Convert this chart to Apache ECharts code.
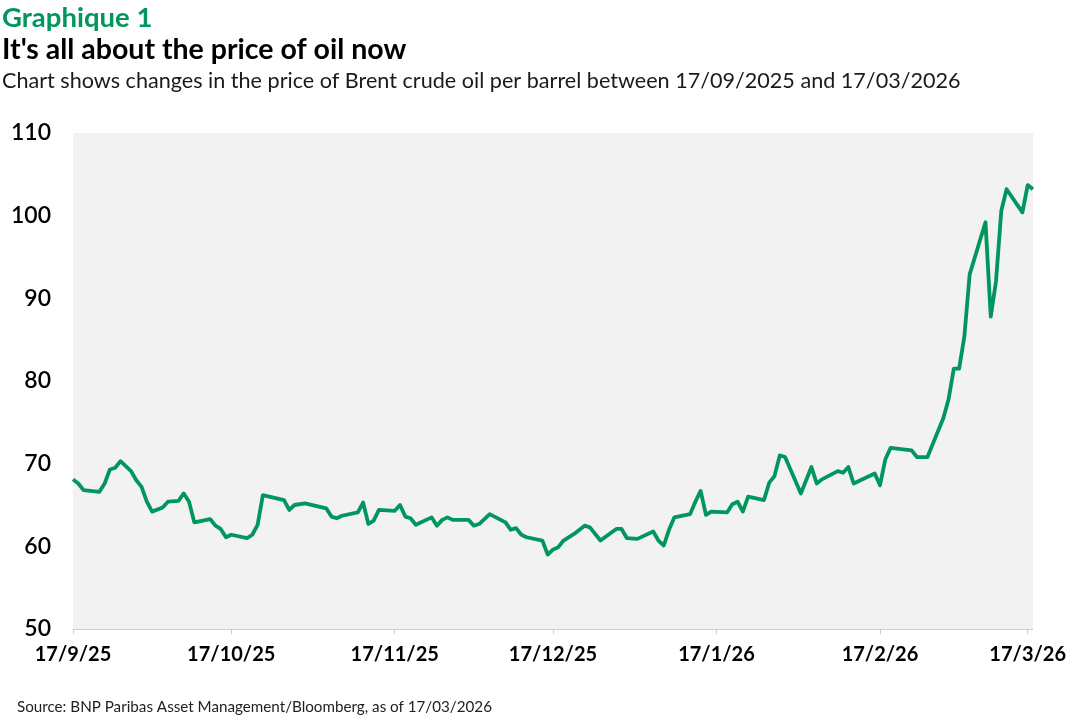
<!DOCTYPE html>
<html>
<head>
<meta charset="utf-8">
<title>Brent crude oil</title>
<script src="https://cdn.jsdelivr.net/npm/echarts@6/dist/echarts.min.js"></script>
<style>
  html, body { margin: 0; padding: 0; background: #fff; }
  #chart-container { width: 1069px; height: 718px; }
</style>
</head>
<body>
<div id="chart-container"></div>
<script>
// Brent price per barrel (USD)
const dates = [
  '2025-09-17', '2025-09-18', '2025-09-19', '2025-09-22', '2025-09-23', '2025-09-24', '2025-09-25', '2025-09-26',
  '2025-09-28', '2025-09-29', '2025-09-30', '2025-10-01', '2025-10-02', '2025-10-04', '2025-10-05', '2025-10-07',
  '2025-10-08', '2025-10-09', '2025-10-10', '2025-10-13', '2025-10-14', '2025-10-15', '2025-10-16', '2025-10-17',
  '2025-10-20', '2025-10-21', '2025-10-22', '2025-10-23', '2025-10-27', '2025-10-28', '2025-10-29', '2025-10-31',
  '2025-11-04', '2025-11-05', '2025-11-06', '2025-11-07', '2025-11-10', '2025-11-11', '2025-11-12', '2025-11-13',
  '2025-11-14', '2025-11-17', '2025-11-18', '2025-11-19', '2025-11-20', '2025-11-21', '2025-11-24', '2025-11-25',
  '2025-11-26', '2025-11-27', '2025-11-28', '2025-12-01', '2025-12-02', '2025-12-03', '2025-12-05', '2025-12-08',
  '2025-12-09', '2025-12-10', '2025-12-11', '2025-12-12', '2025-12-15', '2025-12-16', '2025-12-17', '2025-12-18',
  '2025-12-19', '2025-12-21', '2025-12-23', '2025-12-24', '2025-12-26', '2025-12-29', '2025-12-30', '2025-12-31',
  '2026-01-02', '2026-01-05', '2026-01-06', '2026-01-07', '2026-01-08', '2026-01-09', '2026-01-12', '2026-01-13',
  '2026-01-14', '2026-01-15', '2026-01-16', '2026-01-19', '2026-01-20', '2026-01-21', '2026-01-22', '2026-01-23',
  '2026-01-26', '2026-01-27', '2026-01-28', '2026-01-29', '2026-01-30', '2026-02-02', '2026-02-04', '2026-02-05',
  '2026-02-06', '2026-02-09', '2026-02-10', '2026-02-11', '2026-02-12', '2026-02-16', '2026-02-17', '2026-02-18',
  '2026-02-19', '2026-02-23', '2026-02-24', '2026-02-26', '2026-03-01', '2026-03-02', '2026-03-03', '2026-03-04',
  '2026-03-05', '2026-03-06', '2026-03-09', '2026-03-10', '2026-03-11', '2026-03-12', '2026-03-13', '2026-03-16',
  '2026-03-17', '2026-03-18'
];

const prices = [
  68.1, 67.6, 66.8, 66.6, 67.6, 69.3, 69.5, 70.3,
  69.1, 68.0, 67.2, 65.4, 64.2, 64.7, 65.4, 65.5,
  66.4, 65.4, 62.9, 63.3, 62.5, 62.1, 61.1, 61.4,
  61.0, 61.4, 62.6, 66.2, 65.6, 64.4, 65.0, 65.2,
  64.6, 63.6, 63.4, 63.7, 64.1, 65.3, 62.7, 63.1,
  64.4, 64.3, 65.0, 63.6, 63.4, 62.6, 63.5, 62.5,
  63.2, 63.5, 63.2, 63.2, 62.5, 62.7, 63.9, 62.9,
  62.0, 62.2, 61.4, 61.1, 60.7, 59.0, 59.6, 59.9,
  60.7, 61.5, 62.5, 62.3, 60.7, 62.1, 62.1, 61.0,
  60.9, 61.8, 60.7, 60.1, 62.0, 63.5, 63.9, 65.4,
  66.7, 63.8, 64.2, 64.1, 65.1, 65.4, 64.2, 66.0,
  65.6, 67.7, 68.5, 71.0, 70.8, 66.4, 69.6, 67.6,
  68.1, 69.1, 68.9, 69.6, 67.6, 68.8, 67.4, 70.5,
  71.9, 71.6, 70.8, 70.8, 75.5, 77.8, 81.5, 81.5,
  85.4, 92.9, 99.2, 87.8, 92.1, 100.6, 103.2, 100.4,
  103.7, 103.2
];

const tickDates = [
  '2025-09-17', '2025-10-17', '2025-11-17', '2025-12-17',
  '2026-01-17', '2026-02-17', '2026-03-17'
];

const yTicks = [50, 60, 70, 80, 90, 100, 110];

const green = '#00965E';

const toTs = (s) => {
  const p = s.split('-').map(Number);
  return new Date(p[0], p[1] - 1, p[2]).getTime();
};

const fmtDate = (v) => {
  const d = new Date(v);
  return d.getDate() + '/' + (d.getMonth() + 1) + '/' + String(d.getFullYear()).slice(2);
};

const seriesData = dates.map((d, i) => [toTs(d), prices[i]]);
const tickTs = tickDates.map(toTs);

const dom = document.getElementById('chart-container');
const myChart = echarts.init(dom, null, { renderer: 'canvas' });

const option = {
  animation: false,
  backgroundColor: '#ffffff',
  textStyle: { fontFamily: 'Lato' },
  title: [
    {
      text: 'Graphique 1',
      left: 2, top: 4, padding: 0,
      textStyle: { color: green, fontSize: 27.5, fontWeight: 'bold', fontFamily: 'Lato' }
    },
    {
      text: "It's all about the price of oil now",
      left: 2, top: 35, padding: 0,
      textStyle: { color: '#000', fontSize: 28.5, fontWeight: 'bold', fontFamily: 'Lato' }
    },
    {
      text: 'Chart shows changes in the price of Brent crude oil per barrel between 17/09/2025 and 17/03/2026',
      left: 2, top: 70, padding: 0,
      textStyle: { color: '#1a1a1a', fontSize: 21.6, fontWeight: 'normal', fontFamily: 'Lato' }
    },
    {
      text: 'Source: BNP Paribas Asset Management/Bloomberg, as of 17/03/2026',
      left: 17, top: 700, padding: 0,
      textStyle: { color: '#222', fontSize: 15.2, fontWeight: 'normal', fontFamily: 'Lato' }
    }
  ],
  grid: {
    left: 73, right: 34, top: 133, bottom: 89,
    show: true, backgroundColor: '#f2f2f2', borderWidth: 0
  },
  xAxis: {
    type: 'value',
    min: toTs('2025-09-17'),
    max: toTs('2026-03-18'),
    axisLine: { show: true, lineStyle: { color: '#d0d0d0', width: 1 } },
    axisTick: { show: true, length: 5, lineStyle: { color: '#d0d0d0' }, customValues: tickTs },
    axisLabel: {
      customValues: tickTs,
      formatter: fmtDate,
      color: '#000', fontSize: 20, fontWeight: 'bold', fontFamily: 'Lato',
      margin: 16
    },
    splitLine: { show: false }
  },
  yAxis: {
    type: 'value',
    min: yTicks[0],
    max: yTicks[yTicks.length - 1],
    interval: 10,
    axisLine: { show: false },
    axisTick: { show: false },
    splitLine: { show: false },
    axisLabel: {
      color: '#000', fontSize: 23, fontWeight: 600, fontFamily: 'Lato',
      margin: 22, padding: [0, 0, 5, 0]
    }
  },
  series: [
    {
      type: 'line',
      data: seriesData,
      showSymbol: false,
      symbol: 'none',
      lineStyle: { color: green, width: 3.8, join: 'round' },
      itemStyle: { color: green }
    }
  ]
};

myChart.setOption(option);
window.addEventListener('resize', myChart.resize);
</script>
</body>
</html>
